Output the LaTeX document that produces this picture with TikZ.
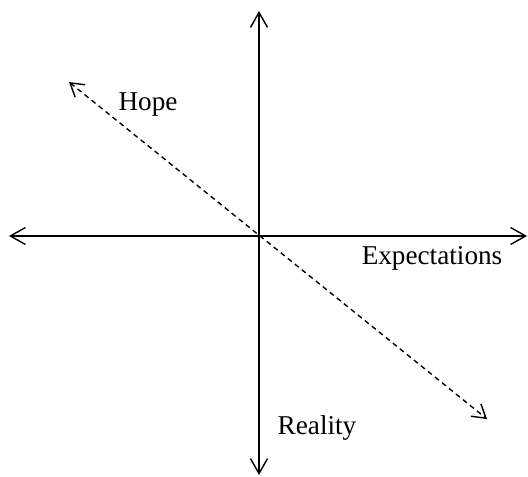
\documentclass[tikz,border=0pt]{standalone}
\usepackage{fontspec}
\setmainfont{Liberation Serif}
\usetikzlibrary{arrows.meta}
\tikzset{
  axis/.style={line width=0.7pt, {Straight Barb[length=7.5pt,width=8.5pt]}-{Straight Barb[length=7.5pt,width=8.5pt]}},
  hopeline/.style={line width=0.7pt, dash pattern=on 2.5pt off 2pt, {Straight Barb[length=6.5pt,width=8pt]}-{Straight Barb[length=6.5pt,width=8pt]}},
  lbl/.style={font=\fontsize{13.6}{16}\selectfont, inner sep=0pt}
}
\begin{document}
\begin{tikzpicture}[x=0.5pt,y=-0.5pt]
  \useasboundingbox (0,0) rectangle (528,476);

  % axis end points
  \coordinate (west) at (9,236);
  \coordinate (east) at (527,236);
  \coordinate (north) at (259,11);
  \coordinate (south) at (259,475);
  \coordinate (hopeend) at (69,82);
  \coordinate (realend) at (487,419);

  % axes
  \draw[axis] (west) -- (east);
  \draw[axis] (south) -- (north);
  \draw[hopeline] (hopeend) -- (realend);

  % labels
  \node[lbl] (hope) at (148,104) {Hope};
  \node[lbl] (expect) at (432,258) {Expectations};
  \node[lbl] (reality) at (317,428) {Reality};
\end{tikzpicture}
\end{document}
